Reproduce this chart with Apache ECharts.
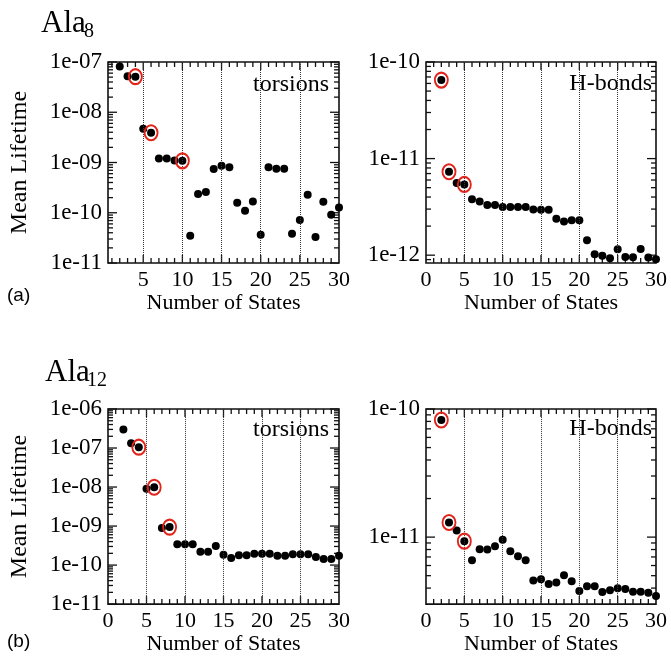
<!DOCTYPE html>
<html>
<head>
<meta charset="utf-8">
<script src="https://cdn.jsdelivr.net/npm/echarts@6/dist/echarts.min.js"></script>
<style>
html, body { margin: 0; padding: 0; background: #fff; }
#chart { width: 671px; height: 656px; }
</style>
</head>
<body>
<div id="chart"></div>
<script>
// number of states on the x axis
const states = [2, 3, 4, 5, 6, 7, 8, 9, 10, 11, 12, 13, 14, 15, 16, 17, 18, 19, 20, 21, 22, 23, 24, 25, 26, 27, 28, 29, 30];

// mean lifetimes
const ala8Torsions = [8.1e-8, 5.2e-8, 5.1e-8, 4.7e-9, 3.9e-9, 1.2e-9, 1.2e-9, 1.1e-9, 1.08e-9, 3.5e-11,
    2.35e-10, 2.6e-10, 7.4e-10, 8.6e-10, 8.0e-10, 1.58e-10, 1.1e-10, 1.68e-10, 3.65e-11, 8.0e-10,
    7.5e-10, 7.5e-10, 3.8e-11, 7.2e-11, 2.28e-10, 3.3e-11, 1.65e-10, 9.1e-11, 1.27e-10];
const ala8Hbonds = [6.5e-11, 7.3e-12, 5.6e-12, 5.4e-12, 3.8e-12, 3.6e-12, 3.3e-12, 3.3e-12, 3.15e-12, 3.15e-12,
    3.15e-12, 3.15e-12, 2.97e-12, 2.95e-12, 2.96e-12, 2.38e-12, 2.23e-12, 2.3e-12, 2.3e-12, 1.43e-12,
    1.02e-12, 9.85e-13, 9.3e-13, 1.15e-12, 9.6e-13, 9.5e-13, 1.16e-12, 9.46e-13, 9.1e-13];
const ala12Torsions = [3.0e-7, 1.33e-7, 1.05e-7, 9.1e-9, 9.9e-9, 8.9e-10, 9.4e-10, 3.4e-10, 3.4e-10, 3.4e-10,
    2.2e-10, 2.2e-10, 3.1e-10, 1.84e-10, 1.52e-10, 1.78e-10, 1.78e-10, 1.95e-10, 1.95e-10, 1.95e-10,
    1.74e-10, 1.74e-10, 1.9e-10, 1.9e-10, 1.9e-10, 1.62e-10, 1.44e-10, 1.43e-10, 1.74e-10];
const ala12Hbonds = [8.2e-11, 1.3e-11, 1.125e-11, 9.3e-12, 6.6e-12, 8.05e-12, 8.0e-12, 8.5e-12, 9.55e-12, 7.76e-12,
    7.1e-12, 6.6e-12, 4.58e-12, 4.69e-12, 4.3e-12, 4.43e-12, 5.03e-12, 4.53e-12, 3.8e-12, 4.14e-12,
    4.14e-12, 3.73e-12, 3.85e-12, 3.98e-12, 3.93e-12, 3.75e-12, 3.75e-12, 3.68e-12, 3.47e-12];

// states marked with a red ring
const ala8TorsionsMarked = [4, 6, 10];
const ala8HbondsMarked = [2, 3, 5];
const ala12TorsionsMarked = [4, 6, 8];
const ala12HbondsMarked = [2, 3, 5];

// ticks
const xLabelsA = [5, 10, 15, 20, 25, 30];
const xLabels = [0, 5, 10, 15, 20, 25, 30];
const xMajorTicks = [5, 10, 15, 20, 25];
const xMinorTicks = [1, 2, 3, 4, 6, 7, 8, 9, 11, 12, 13, 14, 16, 17, 18, 19, 21, 22, 23, 24, 26, 27, 28, 29];
const xGridLines = [5, 10, 15, 20, 25];
const ala8TorsionsYTicks = [1e-11, 1e-10, 1e-9, 1e-8, 1e-7];
const ala8HbondsYTicks = [1e-12, 1e-11, 1e-10];
const ala12TorsionsYTicks = [1e-11, 1e-10, 1e-9, 1e-8, 1e-7, 1e-6];
const ala12HbondsYTicks = [1e-11, 1e-10];

const serif = '"Liberation Serif", "DejaVu Serif", serif';
const ink = '#000';

function minorsOf(decades, from) {
    const out = [];
    decades.forEach(d => {
        for (let k = from || 2; k <= 9; k++) out.push(k * d);
    });
    return out;
}

function fmtExp(v) {
    const e = Math.round(Math.log10(v));
    return '1e' + (e < 0 ? '-' : '+') + String(Math.abs(e)).padStart(2, '0');
}

const panels = [
    { data: ala8Torsions, marked: ala8TorsionsMarked, nameGap: 20,
      grid: { left: 108, top: 62, width: 231, height: 201 },
      xMin: 0.5, xLabels: xLabelsA, yMin: 1e-11, yMax: 1e-7,
      yMajor: ala8TorsionsYTicks, yMinor: minorsOf([1e-11, 1e-10, 1e-9, 1e-8]), yName: 'Mean Lifetime' },
    { data: ala8Hbonds, marked: ala8HbondsMarked, nameGap: 20,
      grid: { left: 426, top: 62, width: 230, height: 201 },
      xMin: 0, xLabels: xLabels, yMin: 8.3e-13, yMax: 1e-10,
      yMajor: ala8HbondsYTicks, yMinor: [9e-13].concat(minorsOf([1e-12, 1e-11])), yName: '' },
    { data: ala12Torsions, marked: ala12TorsionsMarked, nameGap: 25,
      grid: { left: 108, top: 409, width: 231, height: 200 },
      xMin: 0, xLabels: xLabels, yMin: 1e-11, yMax: 1e-6,
      yMajor: ala12TorsionsYTicks, yMinor: minorsOf([1e-11, 1e-10, 1e-9, 1e-8, 1e-7]), yName: 'Mean Lifetime' },
    { data: ala12Hbonds, marked: ala12HbondsMarked, nameGap: 25,
      grid: { left: 426, top: 409, width: 230, height: 200 },
      xMin: 0, xLabels: xLabels, yMin: 3e-12, yMax: 1e-10,
      yMajor: ala12HbondsYTicks, yMinor: minorsOf([1e-12], 4).concat(minorsOf([1e-11])), yName: '' }
];

const grids = [], xAxes = [], yAxes = [], series = [];

panels.forEach((p, i) => {
    grids.push(Object.assign({ show: true, borderColor: '#111', borderWidth: 1.6 }, p.grid));
    xAxes.push({
        gridIndex: i, type: 'value', min: p.xMin, max: 30,
        axisLine: { show: false }, axisTick: { show: false }, splitLine: { show: false },
        axisLabel: { customValues: p.xLabels, fontFamily: serif, fontSize: 22, color: ink, margin: 6 },
        name: 'Number of States', nameLocation: 'middle', nameGap: p.nameGap,
        nameTextStyle: { fontFamily: serif, fontSize: 22, color: ink }
    });
    yAxes.push({
        gridIndex: i, type: 'log', logBase: 10, min: p.yMin, max: p.yMax,
        axisLine: { show: false }, axisTick: { show: false }, splitLine: { show: false },
        axisLabel: { show: false },
        name: p.yName, nameLocation: 'middle', nameGap: 76,
        nameTextStyle: { fontFamily: serif, fontSize: 24, color: ink }
    });

    series.push({
        type: 'scatter', xAxisIndex: i, yAxisIndex: i, clip: false, z: 4,
        symbolSize: 8, itemStyle: { color: '#000', opacity: 1 },
        data: states.map((s, k) => [s, p.data[k]]),
        markLine: {
            silent: true, symbol: ['none', 'none'], label: { show: false },
            lineStyle: { type: 'dotted', color: '#333', width: 1 },
            data: xGridLines.map(v => ({ xAxis: v }))
        }
    });
    series.push({
        type: 'scatter', xAxisIndex: i, yAxisIndex: i, clip: false, z: 5,
        symbolSize: [13, 15],
        itemStyle: { color: 'rgba(0,0,0,0)', borderColor: '#e2231a', borderWidth: 2, opacity: 1 },
        data: p.marked.map(s => [s, p.data[states.indexOf(s)]])
    });

    // y ticks (inward, both sides) and decade labels
    series.push({
        type: 'custom', xAxisIndex: i, yAxisIndex: i, silent: true, clip: false, z: 3,
        data: p.yMajor.map(v => [p.xMin, v, 1]).concat(p.yMinor.map(v => [p.xMin, v, 0])),
        renderItem(params, api) {
            const v = api.value(1);
            const major = api.value(2) === 1;
            const l = api.coord([p.xMin, v]);
            const r = api.coord([30, v]);
            const len = major ? 9 : 5;
            const st = { stroke: '#111', lineWidth: 1.3 };
            const children = [
                { type: 'line', shape: { x1: l[0], y1: l[1], x2: l[0] + len, y2: l[1] }, style: st },
                { type: 'line', shape: { x1: r[0], y1: r[1], x2: r[0] - len, y2: r[1] }, style: st }
            ];
            if (major) {
                children.push({
                    type: 'text',
                    style: { text: fmtExp(v), x: l[0] - 6, y: l[1], textAlign: 'right', textVerticalAlign: 'middle',
                        align: 'right', verticalAlign: 'middle', font: '23px ' + serif, fill: ink }
                });
            }
            return { type: 'group', children };
        }
    });

    // x ticks on bottom and top
    series.push({
        type: 'custom', xAxisIndex: i, yAxisIndex: i, silent: true, clip: false, z: 3,
        data: xMajorTicks.map(v => [v, p.yMin, 1]).concat(xMinorTicks.filter(v => v > p.xMin).map(v => [v, p.yMin, 0])),
        renderItem(params, api) {
            const v = api.value(0);
            const major = api.value(2) === 1;
            const b = api.coord([v, p.yMin]);
            const t = api.coord([v, p.yMax]);
            const len = major ? 8 : 5;
            const st = { stroke: '#111', lineWidth: 1.3 };
            return {
                type: 'group',
                children: [
                    { type: 'line', shape: { x1: b[0], y1: b[1], x2: b[0], y2: b[1] - len }, style: st },
                    { type: 'line', shape: { x1: t[0], y1: t[1], x2: t[0], y2: t[1] + len }, style: st }
                ]
            };
        }
    });
});

function txt(text, x, y, font, align) {
    return {
        type: 'text', silent: true,
        style: { text, x, y, font, fill: ink, textAlign: align || 'left', textVerticalAlign: 'middle',
            align: align || 'left', verticalAlign: 'middle' }
    };
}

const graphics = [
    txt('Ala', 41, 24, '31px ' + serif),
    txt('8', 84, 32, '20px ' + serif),
    txt('Ala', 45, 373, '31px ' + serif),
    txt('12', 87, 381, '20px ' + serif),
    txt('(a)', 7, 296, '19px "Liberation Sans", Arial, sans-serif'),
    txt('(b)', 7, 642, '19px "Liberation Sans", Arial, sans-serif'),
    txt('torsions', 329, 85, '24px ' + serif, 'right'),
    txt('H-bonds', 652, 84, '24px ' + serif, 'right'),
    txt('torsions', 329, 430, '24px ' + serif, 'right'),
    txt('H-bonds', 652, 429, '24px ' + serif, 'right')
];

const chart = echarts.init(document.getElementById('chart'));
chart.setOption({
    animation: false,
    backgroundColor: '#fff',
    grid: grids,
    xAxis: xAxes,
    yAxis: yAxes,
    series: series,
    graphic: graphics
});
</script>
</body>
</html>
